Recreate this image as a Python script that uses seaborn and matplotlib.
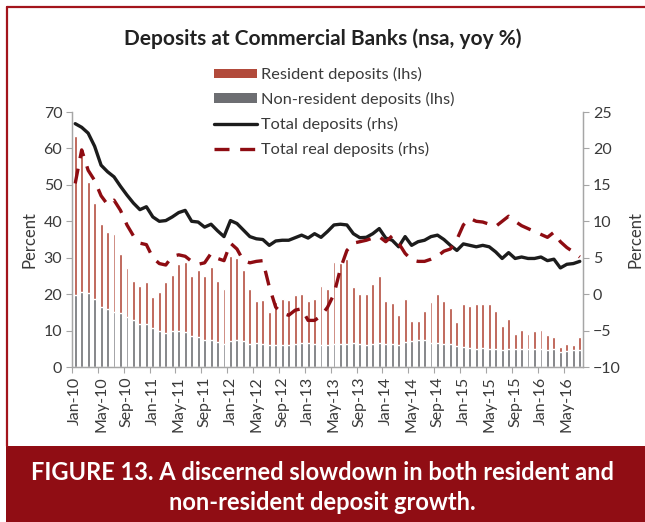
import numpy as np
import pandas as pd
import matplotlib
matplotlib.use("Agg")
import matplotlib.pyplot as plt
from matplotlib.patches import Patch, Rectangle
from matplotlib.lines import Line2D
import seaborn as sns

# monthly data, Jan-10 .. Jul-16
months = pd.date_range("2010-01-01", periods=79, freq="MS").strftime("%b-%y").tolist()

non_resident = [
    19.9, 20.5, 20.2, 18.6, 16.5, 15.8, 15.2, 14.7, 13.8, 13.0, 11.8, 11.9,
    10.8, 9.8, 9.3, 9.9, 9.8, 9.6, 8.6, 8.2, 7.5, 7.5, 7.0, 6.4,
    7.2, 7.3, 7.2, 6.4, 6.7, 6.4, 6.1, 6.0, 6.1, 6.1, 6.4, 6.6,
    6.6, 6.4, 6.1, 6.1, 6.4, 6.4, 6.4, 6.6, 6.4, 6.0, 6.4, 6.6,
    6.4, 6.4, 6.1, 6.9, 7.2, 7.3, 7.5, 6.7, 6.7, 6.4, 6.2, 5.8,
    5.5, 5.2, 4.9, 5.3, 5.0, 4.9, 4.6, 5.0, 5.0, 5.0, 4.9, 5.0,
    4.9, 4.6, 4.9, 4.1, 4.4, 4.8, 4.6,
]
resident = [
    43.4, 37.8, 30.7, 26.5, 22.7, 21.2, 21.2, 16.4, 13.5, 10.5, 10.4, 11.5,
    8.5, 10.7, 14.1, 15.3, 18.4, 19.1, 16.4, 18.4, 17.5, 19.9, 16.5, 15.0,
    23.2, 22.6, 19.4, 15.1, 11.4, 11.9, 9.0, 11.9, 12.5, 12.2, 13.3, 13.4,
    11.5, 12.2, 16.1, 15.3, 22.3, 22.2, 23.2, 15.4, 13.6, 14.0, 16.5, 18.4,
    11.7, 11.2, 8.1, 11.7, 5.5, 5.3, 7.9, 11.1, 13.3, 11.7, 9.9, 6.6,
    11.7, 11.6, 12.5, 11.9, 12.2, 10.4, 6.6, 8.1, 4.2, 5.1, 4.3, 4.9,
    5.2, 4.1, 3.4, 1.4, 2.0, 1.3, 3.7,
]
total_deposits = [
    23.4, 22.9, 22.1, 20.3, 17.7, 16.8, 16.1, 14.8, 13.6, 12.5, 11.6, 12.0,
    10.6, 10.0, 10.1, 10.6, 11.2, 11.5, 10.0, 9.9, 9.2, 9.6, 8.7, 7.9,
    10.1, 9.7, 8.8, 7.9, 7.6, 7.5, 6.7, 7.3, 7.4, 7.4, 7.75, 8.1,
    7.7, 8.3, 7.8, 8.6, 9.5, 9.6, 9.5, 8.3, 7.75, 7.8, 8.3, 9.0,
    7.7, 7.4, 6.5, 7.9, 6.7, 7.2, 7.4, 7.9, 8.1, 7.5, 6.7, 6.0,
    6.9, 6.7, 6.5, 6.7, 6.5, 5.8, 4.9, 5.7, 4.9, 5.1, 4.9, 4.9,
    5.1, 4.6, 4.8, 3.6, 4.1, 4.2, 4.5,
]
total_real = [
    15.2, 19.8, 17.0, 15.6, 13.5, 12.3, 12.9, 11.5, 9.5, 8.0, 7.0, 6.8,
    5.0, 4.2, 4.0, 5.2, 5.4, 5.2, 4.5, 4.1, 4.3, 5.6, 4.9, 4.6,
    7.0, 6.2, 4.6, 4.3, 4.5, 4.6, 1.0, -1.8, -2.6, -2.9, -2.2, -2.0,
    -3.6, -3.6, -3.0, -1.8, 0.0, 3.5, 6.0, 7.0, 7.2, 7.4, 7.7, 7.9,
    7.2, 8.0, 7.0, 5.6, 4.7, 4.5, 4.5, 4.8, 5.2, 5.9, 6.2, 7.5,
    9.5, 10.4, 10.0, 9.9, 9.6, 9.3, 10.0, 10.7, 10.0, 9.4, 9.0, 8.6,
    8.2, 7.8, 8.5, 7.2, 6.4, 5.8, 5.1,
]

RES_COLOR = "#B24A3B"
NONRES_COLOR = "#6D6E72"
TOTAL_COLOR = "#1C1C1C"
REAL_COLOR = "#8E0C12"
FRAME_RED = "#A3141C"
BANNER_RED = "#900D14"
AXIS_GRAY = "#A6A6A6"
TEXT_GRAY = "#3A3A3A"

sns.set_theme(style="white")
plt.rcParams["font.family"] = ["Lato", "DejaVu Sans"]

df = pd.DataFrame({
    "month": months,
    "resident": resident,
    "non_resident": non_resident,
    "total": total_deposits,
    "real": total_real,
})
df["stack"] = df["resident"] + df["non_resident"]
df["pos"] = np.arange(len(df))

fig = plt.figure(figsize=(6.45, 5.22), dpi=100)
ax = fig.add_axes([0.1116, 0.2969, 0.7923, 0.4885])

sns.barplot(data=df, x="pos", y="stack", color=RES_COLOR, saturation=1,
            width=0.45, errorbar=None, ax=ax)
sns.barplot(data=df, x="pos", y="non_resident", color=NONRES_COLOR, saturation=1,
            width=0.45, errorbar=None, ax=ax)

ax2 = ax.twinx()
sns.lineplot(data=df, x="pos", y="total", color=TOTAL_COLOR, lw=2.4, ax=ax2)
sns.lineplot(data=df, x="pos", y="real", color=REAL_COLOR, lw=2.4,
             linestyle=(0, (4.5, 3.2)), ax=ax2)

ax.set_xlim(-0.5, len(df) - 0.5)
ax.set_ylim(0, 70)
ax2.set_ylim(-10, 25)
ax.set_yticks(range(0, 71, 10))
ax2.set_yticks(range(-10, 26, 5))

label_pos = list(range(0, len(df), 4))
ax.set_xticks(label_pos)
ax.set_xticklabels([months[i] for i in label_pos], rotation=90)
ax.set_xticks([p - 0.5 for p in label_pos], minor=True)
ax.tick_params(axis="x", which="major", length=0, pad=7, labelsize=11.5, labelcolor=TEXT_GRAY)
ax.tick_params(axis="x", which="minor", length=4, width=0.8, color=AXIS_GRAY, direction="out", bottom=True)
ax.tick_params(axis="y", length=4, width=0.8, color=AXIS_GRAY, direction="out", left=True,
               labelsize=11.5, labelcolor=TEXT_GRAY, pad=3)
ax2.tick_params(axis="y", length=4, width=0.8, color=AXIS_GRAY, direction="out", right=True,
                labelsize=11.5, labelcolor=TEXT_GRAY, pad=3)

ax.set_xlabel("")
ax.set_ylabel("Percent", fontsize=12, color=TEXT_GRAY, labelpad=4)
ax2.set_xlabel("")
ax2.set_ylabel("Percent", fontsize=12, color=TEXT_GRAY, labelpad=5)

for a in (ax, ax2):
    a.spines["top"].set_visible(False)
    for s in ("left", "right", "bottom"):
        a.spines[s].set_color(AXIS_GRAY)
        a.spines[s].set_linewidth(0.9)
    a.grid(False)

fig.text(0.5, 1 - 39 / 522, "Deposits at Commercial Banks (nsa, yoy %)", ha="center", va="center",
         fontsize=15, fontweight="bold", color="#222222")

handles = [
    Patch(facecolor=RES_COLOR, edgecolor="none"),
    Patch(facecolor=NONRES_COLOR, edgecolor="none"),
    Line2D([], [], color=TOTAL_COLOR, lw=2.4),
    Line2D([], [], color=REAL_COLOR, lw=2.4, linestyle=(0, (4.5, 3.2))),
]
labels = ["Resident deposits (lhs)", "Non-resident deposits (lhs)",
          "Total deposits (rhs)", "Total real deposits (rhs)"]
fig.legend(handles, labels, loc="upper left", bbox_to_anchor=(0.332, 1 - 67 / 522),
           frameon=False, fontsize=11.8, handlelength=2.6, handleheight=0.5,
           handletextpad=0.25, labelspacing=0.6, borderpad=0, borderaxespad=0,
           labelcolor=TEXT_GRAY)

# frame and caption banner
fig.add_artist(Line2D([7 / 645, 1.0], [1 - 6.5 / 522, 1 - 6.5 / 522],
                      transform=fig.transFigure, color=FRAME_RED, lw=1.6))
fig.add_artist(Line2D([7 / 645, 7 / 645], [1 - 6.5 / 522, 76 / 522],
                      transform=fig.transFigure, color=FRAME_RED, lw=1.6))
fig.add_artist(Rectangle((6 / 645, 0), 1, 76 / 522, transform=fig.transFigure,
                         facecolor=BANNER_RED, edgecolor="none"))
fig.text(0.5, 1 - 473 / 522, "FIGURE 13. A discerned slowdown in both resident and",
         ha="center", va="center", fontsize=17, fontweight="bold", color="white")
fig.text(0.5, 1 - 502 / 522, "non-resident deposit growth.",
         ha="center", va="center", fontsize=17, fontweight="bold", color="white")

fig.savefig("out.png", dpi=100)
